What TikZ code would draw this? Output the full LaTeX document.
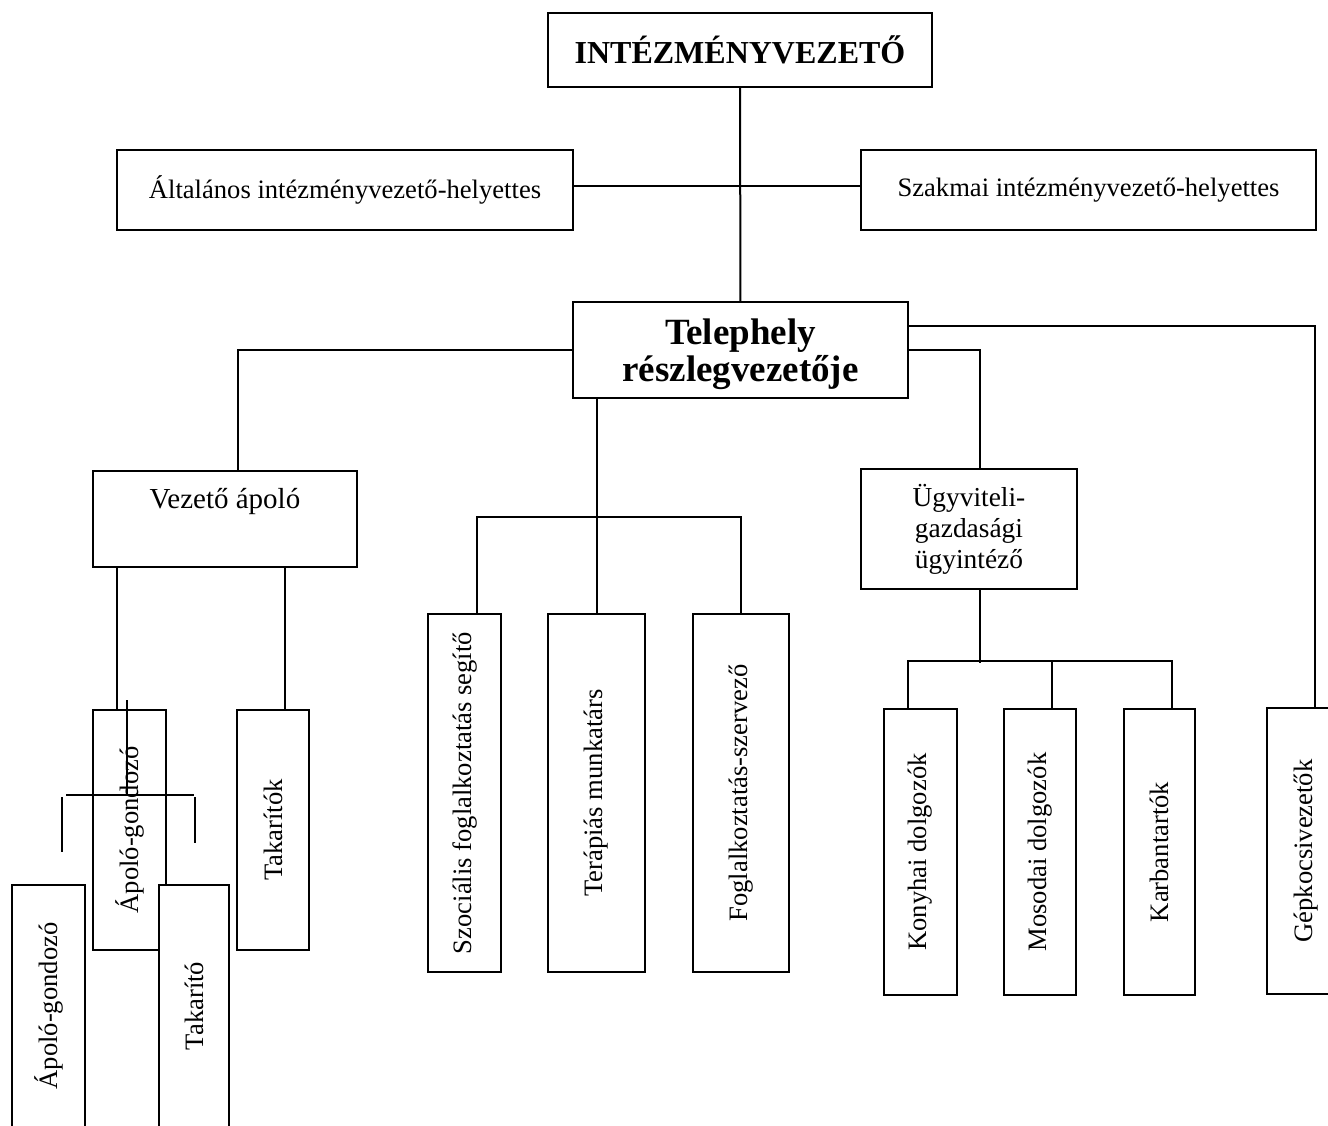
\documentclass[tikz,border=0pt]{standalone}
\usepackage{fontspec}
\setmainfont{Liberation Serif}
\usepackage{graphicx}
\usetikzlibrary{calc}
\usetikzlibrary{positioning}

\newcommand{\up}[1]{\rotatebox{90}{#1}}

\tikzset{
  box/.style={draw, line width=1pt, fill=white, inner sep=0pt, align=center,
    font=\fontsize{13.3}{15.5}\selectfont},
  link/.style={draw, line width=1pt},
  tick/.style={draw, line width=1.4pt},
}

\begin{document}
\begin{tikzpicture}[x=0.5pt, y=-0.5pt]
  \useasboundingbox (0,0) rectangle (1328,1125);
  \clip (0,0) rectangle (1328,1125);

  % upper levels
  \node [box, minimum width=192pt, minimum height=37pt,
    font=\fontsize{16}{18}\selectfont\bfseries] (head) at (740,50) {INTÉZMÉNYVEZETŐ};
  \node [box, minimum width=228pt, minimum height=40pt] (alt) at (345,190)
    {\raisebox{2pt}{Általános intézményvezető-helyettes}};
  \node [box, minimum width=227.5pt, minimum height=40pt] (szak) at (1088.5,190)
    {\raisebox{2pt}{Szakmai intézményvezető-helyettes}};
  \node [box, minimum width=167.5pt, minimum height=48pt] (tel) at (740.5,350) {};
  \node [align=center, inner sep=0pt,
    font=\fontsize{18.5}{18.5}\selectfont\bfseries] (teltxt) at (740.5,354)
    {Telephely\\részlegvezetője};

  \node [box, minimum width=132pt, minimum height=48pt] (vez) at (225,519) {};
  \node [font=\fontsize{14.5}{16}\selectfont, inner sep=0pt] (veztxt) at (225,501) {Vezető ápoló};
  \node [box, minimum width=108pt, minimum height=60pt,
    font=\fontsize{13.7}{15.5}\selectfont] (ugy) at (969,529)
    {Ügyviteli-\\gazdasági\\ügyintéző};

  % bottom row
  \node [box, minimum width=36.5pt, minimum height=179pt] (szoc) at (464.5,793)
    {\up{Szociális foglalkoztatás segítő}};
  \node [box, minimum width=48.5pt, minimum height=179pt] (ter) at (596.5,793)
    {\up{Terápiás munkatárs}};
  \node [box, minimum width=48pt, minimum height=179pt] (fog) at (741,793)
    {\up{Foglalkoztatás-szervező}};
  \node [box, minimum width=36.5pt, minimum height=143pt] (kony) at (920.5,852)
    {\up{Konyhai dolgozók}};
  \node [box, minimum width=36pt, minimum height=143pt] (mos) at (1040,852)
    {\up{Mosodai dolgozók}};
  \node [box, minimum width=35.5pt, minimum height=143pt] (karb) at (1159.5,852)
    {\up{Karbantartók}};
  \node [box, minimum width=39pt, minimum height=143pt] (gep) at (1306,851)
    {\up{Gépkocsivezetők}};

  \node [box, minimum width=36.5pt, minimum height=120pt] (apo) at (129.5,830)
    {\up{Ápoló-gondozó}};
  \node [box, minimum width=36pt, minimum height=120pt] (tak) at (273,830)
    {\up{Takarítók}};
  \node [box, minimum width=36.5pt, minimum height=121pt] (apo2) at (48.5,1006)
    {\up{Ápoló-gondozó}};
  \node [box, minimum width=35pt, minimum height=121pt] (tak2) at (194,1006)
    {\up{Takarító}};

  % connectors
  \coordinate (vezin) at ($(vez.north)+(13,0)$);
  \coordinate (szocin) at ($(szoc.north)+(12.5,0)$);
  \coordinate (ugyin) at ($(ugy.north)+(11,0)$);
  \coordinate (gepin) at ($(gep.north)+(9,0)$);
  \coordinate (ugyout) at ($(ugy.south)+(11,0)$);
  \coordinate (konyin) at ($(kony.north)+(-12.5,0)$);
  \coordinate (mosin) at ($(mos.north)+(12,0)$);
  \coordinate (karbin) at ($(karb.north)+(12.5,0)$);
  \coordinate (apoin) at ($(apo.north)+(-12.5,0)$);
  \coordinate (takin) at ($(tak.north)+(12,0)$);

  \path [link]
    (head) edge (tel)
    ([yshift=2pt]alt.east) edge ([yshift=2pt]szak.west);
  \draw [link] (tel.west) -| (vezin);
  \draw [link] (tel.south -| ter.north) -- (ter.north);
  \draw [link] (szocin) -- ++(0,-96) -| (fog.north);
  \draw [link] (tel.east) -| (ugyin);
  \draw [link] ($(tel.east)+(0,-24)$) -| (gepin);
  \draw [link] (ugyout) -- ++(0,73);
  \draw [link] (konyin) -- ++(0,-47) -| (karbin);
  \draw [link] (mosin) -- ++(0,-47);
  \draw [link] (apoin) -- (apoin |- vez.south);
  \draw [link] (takin) -- (takin |- vez.south);

  % stray strokes over the left branch
  \coordinate (crossT) at (127,700);
  \coordinate (crossB) at (127,795);
  \coordinate (barL) at (66,795);
  \coordinate (barR) at (194,795);
  \coordinate (tickLa) at (62,797);
  \coordinate (tickLb) at (62,852);
  \coordinate (tickRa) at (195,797);
  \coordinate (tickRb) at (195,843);
  \draw [link] (crossT) -- (crossB);
  \draw [link] (barL) -- (barR);
  \draw [tick] (tickLa) -- (tickLb);
  \draw [tick] (tickRa) -- (tickRb);
\end{tikzpicture}
\end{document}
